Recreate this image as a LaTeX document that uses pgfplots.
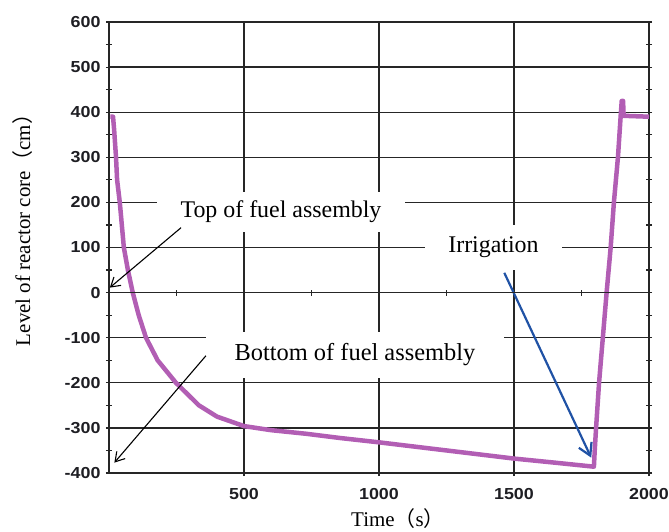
\documentclass[border=0pt]{standalone}
\usepackage{fontspec}
\setmainfont{Liberation Serif}
\newfontfamily\cjk{Noto Sans CJK SC}
\newfontfamily\ticksfont{Liberation Sans}[FakeStretch=1.12]
\usepackage{pgfplots}
\pgfplotsset{compat=1.18}
\usetikzlibrary{arrows.meta}
\definecolor{curve}{RGB}{178,94,180}
\definecolor{arrowblue}{RGB}{32,82,165}
\definecolor{tickcol}{RGB}{30,30,35}
\begin{document}
\begin{tikzpicture}
\path[use as bounding box] (-109bp,-59bp) rectangle (560bp,473bp);
\begin{axis}[
  at={(0,0)}, anchor=south west,
  scale only axis, width=540bp, height=451bp,
  xmin=0, xmax=2000, ymin=-400, ymax=600,
  xtick={500,1000,1500,2000},
  ytick={-400,-300,-200,-100,0,100,200,300,400,500,600},
  minor y tick num=1,
  ytick pos=both, xtick pos=bottom,
  grid=major,
  major grid style={black!85, line width=1.3bp},
  axis line style={black!85, line width=1.5bp},
  tick style={black!85, line width=1.2bp},
  major tick length=6bp, minor tick length=6bp,
  tick align=center,
  scaled ticks=false,
  /pgf/number format/1000 sep={},
  /pgf/number format/assume math mode=true,
  ticklabel style={font=\ticksfont\bfseries\fontsize{16}{16}\selectfont, text=tickcol},
  xticklabel style={yshift=-9bp},
  yticklabel style={xshift=-2bp},
  xlabel={Time{\cjk （}s{\cjk ）}},
  ylabel={Level of reactor core{\cjk （}cm{\cjk ）}},
  label style={font=\fontsize{21}{21}\selectfont},
  xlabel style={at={(axis description cs:0.535,-0.102)}, anchor=center},
  ylabel style={at={(axis description cs:-0.161,0.55)}, anchor=center, rotate=0},
  clip=false,
]
\addplot[color=curve, line width=4.5bp, line join=round] coordinates {
(5,390)(15,390)(19,361)(26,300)(30,250)(40,200)(55,100)(70,50)(88,0)(110,-50)(137,-100)(180,-150)(248,-200)(333,-250)(400,-275)(500,-296)(600,-305)(730,-313)(850,-322)(1000,-332)(1125,-341)(1250,-350)(1375,-359)(1500,-368)(1650,-377)(1796,-386)
(1799,-350)(1804,-300)(1815,-200)(1829,-100)(1843,0)(1858,100)(1870,200)(1885,300)(1896,400)(1899,425)(1904,425)(1906,392)(2000,390)
};
\node[fill=white, inner xsep=24bp, inner ysep=9bp, font=\fontsize{24}{24}\selectfont] at (axis cs:637,179) {Top of fuel assembly};
\node[fill=white, inner xsep=23bp, inner ysep=12bp, font=\fontsize{24}{24}\selectfont] at (axis cs:1424,100) {Irrigation};
\node[fill=white, inner xsep=29bp, inner ysep=12bp, font=\fontsize{24.5}{24.5}\selectfont] at (axis cs:911,-138) {Bottom of fuel assembly};
\draw[black, line width=1.1bp, -{Straight Barb[length=9bp,width=11bp]}] (axis cs:267,144) -- (axis cs:3,11);
\draw[black, line width=1.1bp, -{Straight Barb[length=9bp,width=11bp]}] (axis cs:359,-140) -- (axis cs:20,-377);
\draw[arrowblue, line width=2.2bp, -{Straight Barb[length=12bp,width=14bp]}] (axis cs:1464,44) -- (axis cs:1786,-366);
\end{axis}
\begin{axis}[
  at={(0,0)}, anchor=south west,
  scale only axis, width=540bp, height=451bp,
  xmin=0, xmax=2000, ymin=-400, ymax=600,
  axis x line=middle, axis y line=none,
  xtick={250,750,1250,1750},
  xticklabel style={opacity=0},
  ytick=\empty,
  axis line style={-, black!85, line width=1.5bp},
  tick style={black!85, line width=1.2bp},
  major tick length=6bp, tick align=center,
]
\end{axis}
\end{tikzpicture}
\end{document}
